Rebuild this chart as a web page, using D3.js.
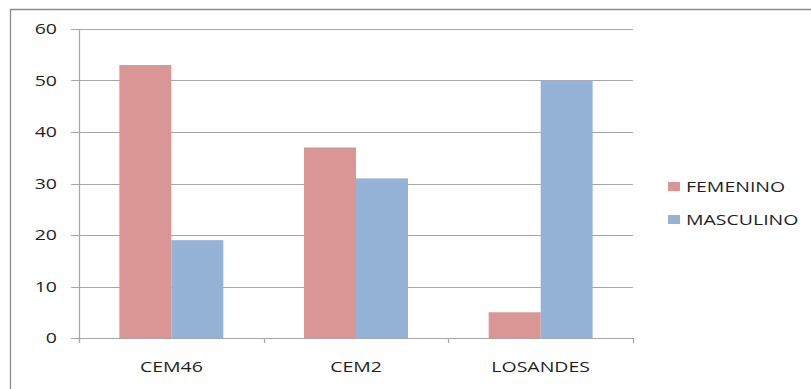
<!DOCTYPE html>
<html>
<head>
<meta charset="utf-8">
<script src="https://cdn.jsdelivr.net/npm/d3@7"></script>
<style>
  html, body { margin: 0; padding: 0; background: #fff; }
  svg text { font-family: "Open Sans", sans-serif; font-size: 15px; fill: #1f1f1f; }
</style>
</head>
<body>
<svg id="chart" width="811" height="389"></svg>
<script>
// Students per school, split by sex
const categories = ["CEM46", "CEM2", "LOSANDES"];
const seriesNames = ["FEMENINO", "MASCULINO"];
const femenino = [53, 37, 5];
const masculino = [19, 31, 50];
const yTicks = [0, 10, 20, 30, 40, 50, 60];
const colors = ["#D99694", "#95B3D7"];

const values = [femenino, masculino];
const rows = categories.map((c, i) => ({ cat: c, vals: seriesNames.map((s, j) => ({ s, v: values[j][i] })) }));

const svg = d3.select("#chart");
const stretch = 1.3; // wide lettering

const plot = { left: 79, right: 633, top: 29, bottom: 338 };

const x0 = d3.scaleBand().domain(categories).range([plot.left, plot.right]).paddingInner(0).paddingOuter(0);
const x1 = d3.scaleBand().domain(seriesNames).range([0, x0.bandwidth()]).paddingInner(0).paddingOuter(0.776);
const y = d3.scaleLinear().domain([0, 60]).range([plot.bottom, plot.top]);

// outer chart frame (left and top edges visible)
svg.append("path")
  .attr("d", "M10.5,389 L10.5,9.5 L811,9.5")
  .attr("fill", "none").attr("stroke", "#8c8c8c").attr("stroke-width", 1.3);

// horizontal gridlines, running out through the tick marks
svg.append("g").selectAll("line").data(yTicks).join("line")
  .attr("x1", plot.left - 8).attr("x2", plot.right)
  .attr("y1", d => Math.round(y(d)) + 0.5).attr("y2", d => Math.round(y(d)) + 0.5)
  .attr("stroke", "#a6a6a6").attr("stroke-width", 1.2);

// bars
const groups = svg.append("g").selectAll("g").data(rows).join("g")
  .attr("transform", d => `translate(${x0(d.cat)},0)`);
groups.selectAll("rect").data(d => d.vals).join("rect")
  .attr("x", d => x1(d.s))
  .attr("width", x1.bandwidth())
  .attr("y", d => y(d.v))
  .attr("height", d => y(0) - y(d.v))
  .attr("fill", (d, i) => colors[i]);

// value axis line
svg.append("line")
  .attr("x1", plot.left + 0.5).attr("x2", plot.left + 0.5)
  .attr("y1", plot.top).attr("y2", plot.bottom + 5)
  .attr("stroke", "#a6a6a6").attr("stroke-width", 1.2);

// category axis baseline and tick marks between categories
svg.append("line")
  .attr("x1", plot.left).attr("x2", plot.right)
  .attr("y1", y(0) + 0.5).attr("y2", y(0) + 0.5)
  .attr("stroke", "#a6a6a6").attr("stroke-width", 1.2);
const bounds = categories.map(c => x0(c)).concat([plot.right]);
svg.append("g").selectAll("line").data(bounds).join("line")
  .attr("x1", d => Math.round(d) + 0.5).attr("x2", d => Math.round(d) + 0.5)
  .attr("y1", y(0)).attr("y2", y(0) + 5)
  .attr("stroke", "#a6a6a6").attr("stroke-width", 1.2);

// value tick labels
svg.append("g").selectAll("text").data(yTicks).join("text")
  .attr("transform", d => `translate(57,${y(d)}) scale(${stretch},1)`)
  .attr("text-anchor", "end").attr("dy", "0.36em")
  .text(d => d);

// category labels
svg.append("g").selectAll("text").data(categories).join("text")
  .attr("transform", d => `translate(${x0(d) + x0.bandwidth() / 2},372) scale(${stretch},1)`)
  .attr("text-anchor", "middle")
  .text(d => d);

// legend
const legend = svg.append("g").selectAll("g").data(seriesNames).join("g")
  .attr("transform", (d, i) => `translate(668,${182 + i * 33})`);
legend.append("rect").attr("width", 12).attr("height", 9).attr("fill", (d, i) => colors[i]);
legend.append("text")
  .attr("transform", `translate(18,9.5) scale(${stretch},1)`)
  .text(d => d);
</script>
</body>
</html>
